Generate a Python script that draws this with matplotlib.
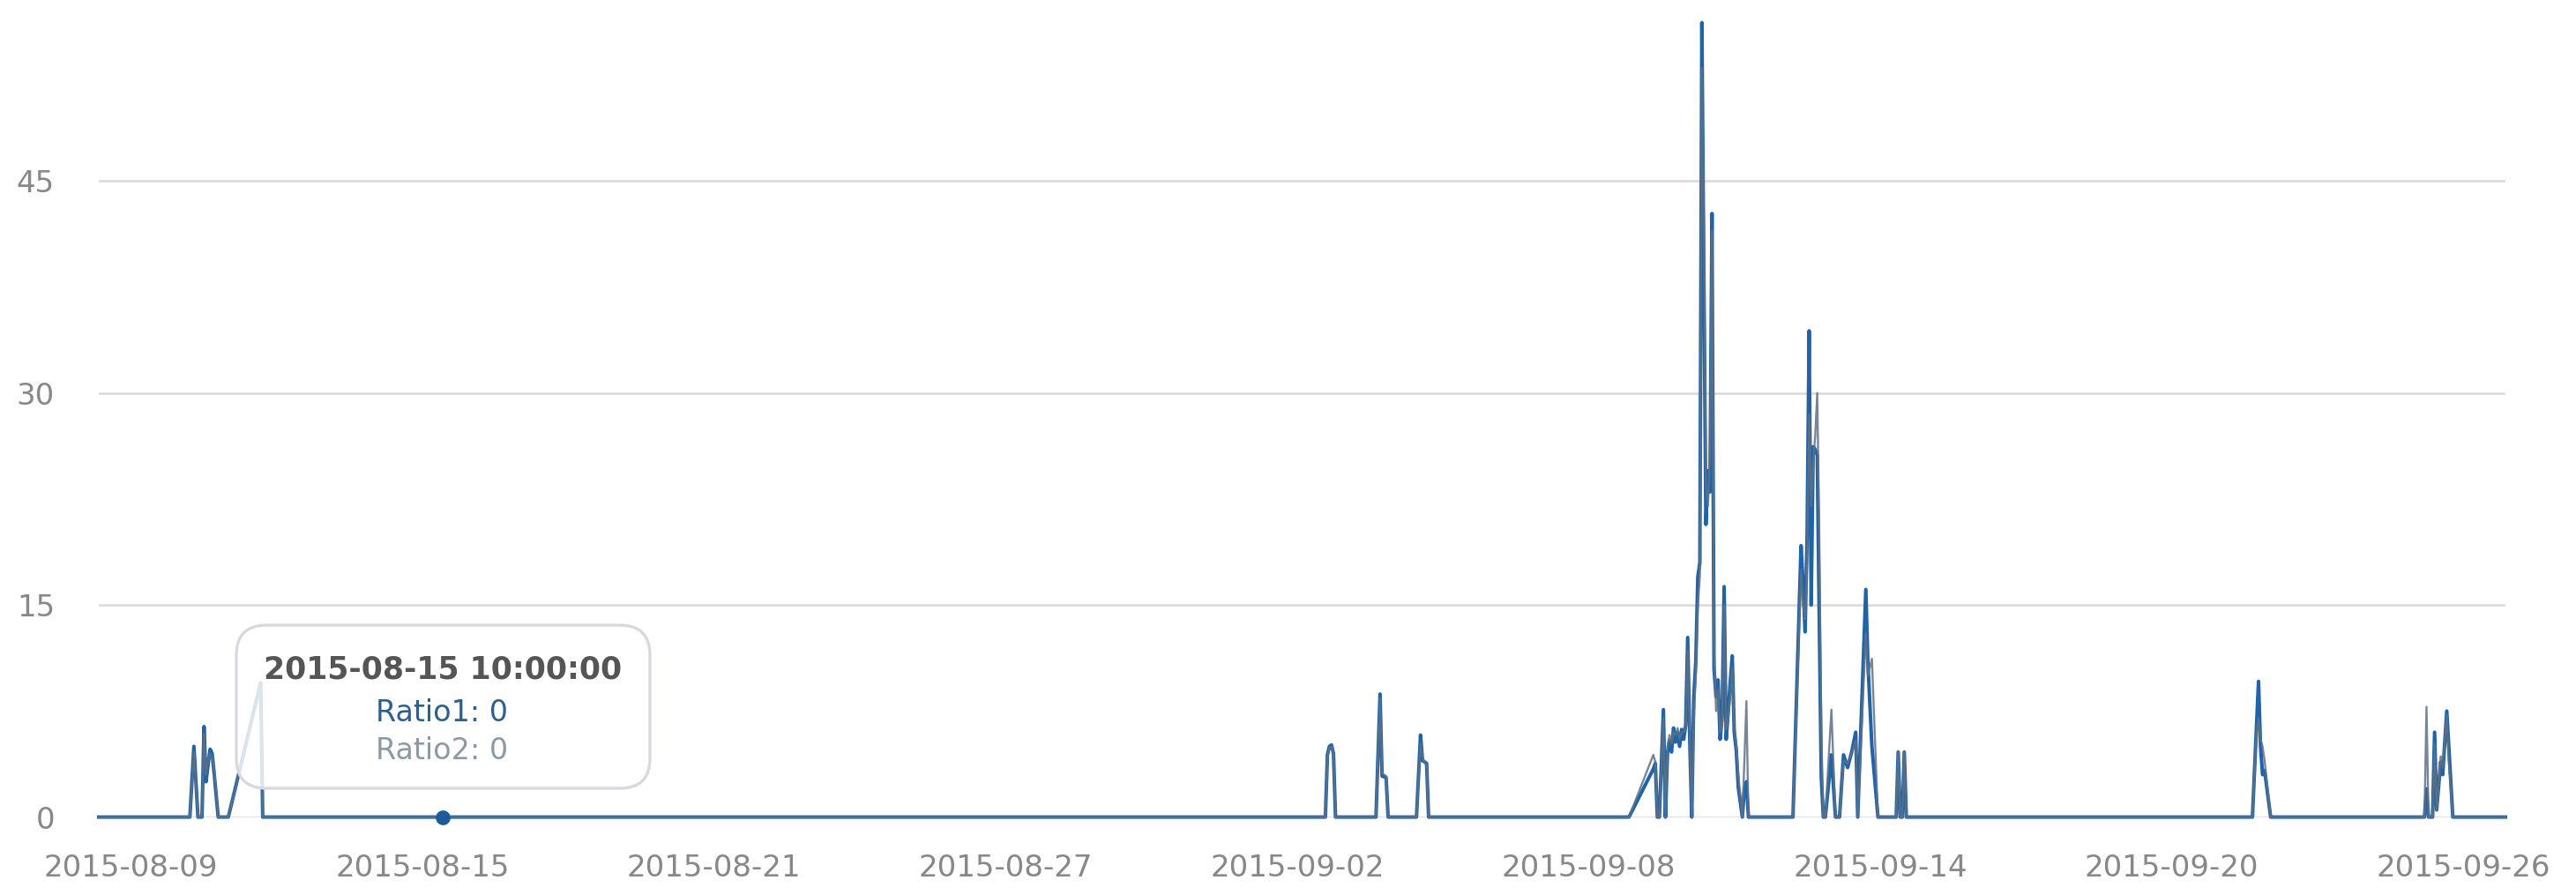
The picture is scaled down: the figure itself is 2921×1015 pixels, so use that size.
import matplotlib
matplotlib.use("Agg")
import matplotlib.pyplot as plt
from matplotlib.patches import FancyBboxPatch
from matplotlib.transforms import IdentityTransform
import pandas as pd

W, H = 2921, 1015
DPI = 100

# hourly readings (only the points where the lines change shape)
times = [
    "2015-08-08 08:00",
    # 08-10 / 08-11
    "2015-08-10 05:00", "2015-08-10 07:00", "2015-08-10 09:00", "2015-08-10 11:00",
    "2015-08-10 12:00", "2015-08-10 13:00", "2015-08-10 14:00", "2015-08-10 15:00",
    "2015-08-10 16:00", "2015-08-10 17:00", "2015-08-10 19:00", "2015-08-11 00:00",
    "2015-08-11 16:00", "2015-08-11 17:00",
    # 09-02 .. 09-04
    "2015-09-02 14:00", "2015-09-02 15:00", "2015-09-02 16:00", "2015-09-02 17:00",
    "2015-09-02 18:00", "2015-09-02 19:00",
    "2015-09-03 15:00", "2015-09-03 17:00", "2015-09-03 18:00", "2015-09-03 20:00",
    "2015-09-03 21:00",
    "2015-09-04 11:00", "2015-09-04 13:00", "2015-09-04 14:00", "2015-09-04 16:00",
    "2015-09-04 17:00",
    # 09-08 .. 09-14
    "2015-09-08 20:00", "2015-09-09 08:00", "2015-09-09 09:00", "2015-09-09 10:00",
    "2015-09-09 11:00", "2015-09-09 13:00", "2015-09-09 14:00", "2015-09-09 15:00",
    "2015-09-09 16:00", "2015-09-09 17:00", "2015-09-09 18:00", "2015-09-09 19:00",
    "2015-09-09 20:00", "2015-09-09 21:00", "2015-09-09 22:00", "2015-09-09 23:00",
    "2015-09-10 00:00", "2015-09-10 01:00", "2015-09-10 02:00", "2015-09-10 03:00",
    "2015-09-10 04:00", "2015-09-10 05:00", "2015-09-10 06:00", "2015-09-10 07:00",
    "2015-09-10 08:00", "2015-09-10 09:00", "2015-09-10 10:00", "2015-09-10 11:00",
    "2015-09-10 12:00", "2015-09-10 13:00", "2015-09-10 14:00", "2015-09-10 15:00",
    "2015-09-10 16:00", "2015-09-10 17:00", "2015-09-10 18:00", "2015-09-10 19:00",
    "2015-09-10 20:00", "2015-09-10 21:00", "2015-09-10 22:00", "2015-09-10 23:00",
    "2015-09-11 00:00", "2015-09-11 01:00", "2015-09-11 02:00", "2015-09-11 04:00",
    "2015-09-11 05:00", "2015-09-11 06:00", "2015-09-11 07:00",
    "2015-09-12 05:00", "2015-09-12 09:00", "2015-09-12 10:00", "2015-09-12 11:00",
    "2015-09-12 12:00", "2015-09-12 13:00", "2015-09-12 14:00", "2015-09-12 15:00",
    "2015-09-12 16:00", "2015-09-12 17:00", "2015-09-12 18:00", "2015-09-12 19:00",
    "2015-09-12 20:00", "2015-09-12 21:00", "2015-09-13 00:00", "2015-09-13 02:00",
    "2015-09-13 04:00", "2015-09-13 06:00", "2015-09-13 08:00", "2015-09-13 10:00",
    "2015-09-13 12:00", "2015-09-13 13:00", "2015-09-13 17:00", "2015-09-13 18:00",
    "2015-09-13 20:00", "2015-09-13 23:00",
    "2015-09-14 08:00", "2015-09-14 09:00", "2015-09-14 10:00", "2015-09-14 11:00",
    "2015-09-14 12:00", "2015-09-14 13:00",
    # 09-21
    "2015-09-21 16:00", "2015-09-21 18:00", "2015-09-21 19:00", "2015-09-21 20:00",
    "2015-09-21 21:00", "2015-09-21 22:00", "2015-09-22 01:00",
    # 09-25
    "2015-09-25 05:00", "2015-09-25 06:00", "2015-09-25 07:00", "2015-09-25 09:00",
    "2015-09-25 10:00", "2015-09-25 11:00", "2015-09-25 13:00", "2015-09-25 14:00",
    "2015-09-25 16:00", "2015-09-25 17:00", "2015-09-25 19:00",
    "2015-09-26 21:00",
]

ratio1 = [
    0,
    0, 5.0, 0, 0, 6.4, 2.5, 3.7, 4.8, 4.5, 3.1, 0, 0, 9.5, 0,
    0, 4.4, 5.0, 5.1, 4.5, 0,
    0, 8.7, 2.9, 2.8, 0,
    0, 5.8, 4.0, 3.8, 0,
    0, 3.4, 3.8, 0, 0, 7.6, 0, 4.5, 5.4, 4.6, 6.3, 5.3, 6.0, 5.0, 6.2, 5.5,
    6.5, 12.7, 5.5, 0, 8.5, 11.0, 17.0, 18.0, 56.2, 38.0, 20.7, 24.5,
    23.0, 42.7, 10.5, 8.5, 9.7, 5.5, 7.0, 16.3, 5.5, 7.4, 9.5, 11.4,
    6.0, 4.7, 2.1, 0, 2.0, 2.5, 0,
    0, 19.2, 16.5, 13.1, 20.0, 34.4, 15.0, 26.2, 26.0, 25.6, 13.9, 2.8,
    0, 0, 4.4, 0, 0, 4.4, 3.5, 4.6, 6.0, 0, 16.1, 11.0, 5.0, 0,
    0, 4.6, 0, 0, 4.6, 0,
    0, 6.5, 9.6, 5.0, 3.0, 3.3, 0,
    0, 2.0, 0, 0, 6.0, 0.5, 3.9, 3.0, 7.5, 5.0, 0,
    0,
]

ratio2 = [
    0,
    0, 4.6, 0, 0, 5.9, 3.0, 4.0, 4.5, 4.3, 3.4, 0, 0, 9.3, 0,
    0, 4.2, 4.9, 5.0, 4.6, 0,
    0, 8.4, 3.1, 2.9, 0,
    0, 5.2, 4.2, 3.6, 0,
    0, 4.4, 3.9, 0, 0, 7.0, 0, 5.0, 5.8, 5.2, 6.0, 5.8, 6.3, 5.5, 6.0, 6.0,
    6.2, 11.8, 6.0, 0, 7.0, 10.0, 15.0, 17.0, 53.0, 42.0, 23.5, 22.0,
    25.5, 41.5, 12.0, 7.5, 9.0, 6.0, 6.5, 15.0, 6.2, 7.0, 8.5, 10.6,
    6.5, 5.2, 3.0, 0, 4.0, 8.2, 0,
    0, 17.5, 15.0, 14.0, 18.0, 28.5, 22.0, 25.0, 27.0, 30.0, 20.0, 6.0,
    0, 0, 7.6, 0, 0, 4.0, 3.8, 4.5, 5.4, 0, 13.0, 10.0, 11.2, 0,
    0, 4.6, 0, 0, 4.6, 0,
    0, 6.0, 7.0, 5.5, 5.0, 4.0, 0,
    0, 7.8, 0, 0, 5.2, 0.5, 4.3, 3.5, 7.2, 4.0, 0,
    0,
]

y_ticks = [0, 15, 30, 45]
x_tick_labels = ["2015-08-09", "2015-08-15", "2015-08-21", "2015-08-27", "2015-09-02",
                 "2015-09-08", "2015-09-14", "2015-09-20", "2015-09-26"]

tooltip_time = "2015-08-15 10:00:00"
tooltip_ratio1 = 0
tooltip_ratio2 = 0

RATIO1_COLOR = "#1f63a8"
RATIO2_COLOR = "#5f7184"
LABEL_COLOR = "#888888"

t = pd.to_datetime(times).to_numpy()

fig = plt.figure(figsize=(W / DPI, H / DPI), dpi=DPI)
fig.patch.set_facecolor("white")
# plot area in pixels: x 112..2841, y baseline at 926.6 from top, 16.03 px per unit
ax = fig.add_axes([112 / W, (H - 926.6) / H, (2841 - 112) / W, 926.6 / H])
ax.set_ylim(0, 926.6 / 16.03)
ax.set_xlim(t[0], t[-1])

for s in ax.spines.values():
    s.set_visible(False)

ax.set_yticks(y_ticks)
ax.set_yticklabels([str(v) for v in y_ticks])
ax.yaxis.grid(True, color="#d9d9d9", lw=1.8)
ax.set_axisbelow(True)

ax.set_xticks(pd.to_datetime(x_tick_labels).to_numpy())
ax.set_xticklabels(x_tick_labels)
ax.tick_params(axis="x", length=0, pad=30, labelsize=24.5, labelcolor=LABEL_COLOR)
ax.tick_params(axis="y", length=0, pad=36, labelsize=24.5, labelcolor=LABEL_COLOR)

ax.plot(t, ratio1, color=RATIO1_COLOR, lw=2.9, clip_on=False, zorder=3)
ax.plot(t, ratio2, color=RATIO2_COLOR, lw=1.7, clip_on=False, zorder=3.5, alpha=0.85)

# hovered point
ax.plot(pd.Timestamp(tooltip_time), tooltip_ratio1, "o", color="#1c5a99", ms=11,
        clip_on=False, zorder=4)

# tooltip (pixel coordinates)
px = IdentityTransform()
box = FancyBboxPatch((268, H - 894), 737 - 268, 894 - 709,
                     boxstyle="round,pad=0,rounding_size=34",
                     transform=px, facecolor=(1, 1, 1, 0.82),
                     edgecolor="#d6dadf", lw=2.4, zorder=5, clip_on=False)
ax.add_patch(box)
ax.text(502.5, H - 769, tooltip_time, transform=px, ha="center", va="baseline",
        fontsize=25, fontweight="bold", color="#555555", zorder=6)
ax.text(501, H - 818, f"Ratio1: {tooltip_ratio1}", transform=px, ha="center",
        va="baseline", fontsize=24, color="#2d5f91", zorder=6)
ax.text(501, H - 861, f"Ratio2: {tooltip_ratio2}", transform=px, ha="center",
        va="baseline", fontsize=24, color="#8d9aa6", zorder=6)

fig.savefig("out.png", dpi=DPI)
